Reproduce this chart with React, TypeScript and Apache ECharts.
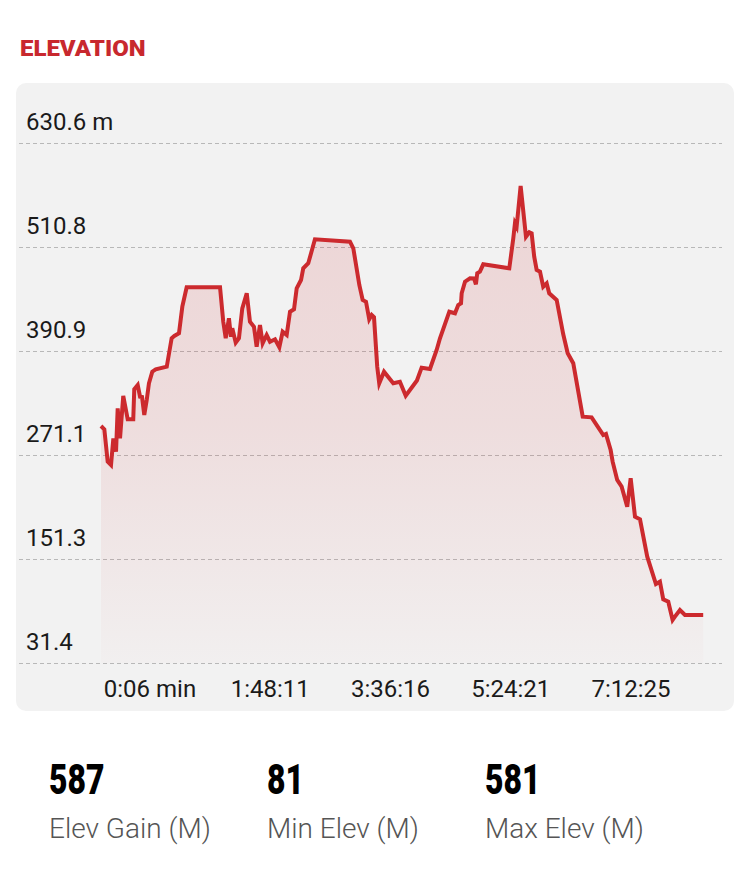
import React, { useEffect, useRef } from "react";
import * as echarts from "echarts";

// Elapsed time since the 0:06 start, in minutes
const elapsedMinutes = [
  0, 3.0, 6.0, 9.0, 11.1, 13.5, 15.0, 17.1, 20.0, 24.0,
  29.0, 29.9, 33.0, 35.1, 36.9, 38.9, 41.1, 43.1, 46.1, 49.2,
  59.1, 63.5, 65.9, 70.1, 73.1, 77.0, 107.0, 109.9, 112.1, 115.0,
  116.8, 118.0, 121.1, 124.0, 127.0, 131.0, 133.9, 137.5, 139.9, 142.9,
  145.3, 148.9, 151.9, 156.4, 160.3, 163.3, 166.9, 169.9, 173.5, 175.9,
  179.8, 181.8, 186.3, 192.3, 223.8, 226.8, 232.2, 235.2, 238.2, 241.1,
  243.3, 245.4, 248.3, 250.1, 254.4, 262.7, 268.7, 273.9, 284.0, 288.2,
  295.7, 301.7, 304.7, 313.1, 318.2, 321.1, 323.6, 324.2, 327.2, 331.7,
  335.3, 337.0, 338.2, 340.6, 343.6, 367.0, 370.6, 372.1, 373.6, 377.2,
  382.0, 385.0, 387.1, 389.4, 391.6, 394.6, 397.5, 400.6, 402.9, 409.6,
  415.5, 419.5, 424.5, 433.0, 441.0, 451.5, 453.9, 458.1, 459.9, 464.0,
  468.0, 473.0, 476.1, 480.0, 484.5, 491.0, 498.8, 502.4, 505.4, 509.9,
  513.8, 515.9, 520.4, 524.9, 541.3,
];

// Elevation in metres
const elevationM = [
  304.5, 300.7, 263.4, 259.6, 290.3, 274.9, 324.9, 290.3, 339.1, 312.2,
  312.2, 346.8, 351.7, 338.3, 337.9, 317.2, 334.5, 353.7, 367.1, 369.8,
  372.8, 405.6, 408.2, 411.3, 442.0, 464.3, 464.3, 424.7, 405.6, 428.6,
  407.4, 417.1, 400.5, 405.6, 440.1, 457.4, 424.7, 418.9, 395.9, 420.9,
  399.8, 409.4, 401.6, 404.4, 395.2, 413.2, 409.4, 436.2, 439.0, 463.2,
  472.7, 486.2, 492.0, 519.6, 516.9, 509.3, 467.0, 449.7, 447.7, 427.5,
  432.4, 429.8, 372.8, 353.7, 367.1, 353.7, 355.5, 339.4, 356.9, 371.7,
  370.2, 392.1, 405.6, 436.2, 434.4, 443.9, 445.9, 457.4, 470.8, 474.7,
  474.5, 467.8, 480.5, 482.3, 490.8, 486.2, 520.8, 538.1, 534.2, 581.0,
  522.6, 527.7, 526.5, 499.6, 484.3, 482.3, 465.0, 468.9, 457.4, 449.7,
  410.2, 388.3, 376.8, 315.2, 314.5, 294.1, 295.3, 276.8, 263.4, 242.3,
  234.6, 211.5, 244.2, 200.0, 197.0, 153.9, 122.4, 125.1, 104.8, 102.0,
  81.0, 84.8, 92.5, 86.7, 86.7,
];

const xTickLabels = ["0:06 min", "1:48:11", "3:36:16", "5:24:21", "7:12:25"];
const xTickStepMin = 108.0833; // 1:48:05 between labels
const xAxisMaxMin = 558.2;

const yTickValues = [31.4, 151.3, 271.1, 390.9, 510.8, 630.6];
const yTickLabels = ["31.4", "151.3", "271.1", "390.9", "510.8", "630.6 m"];

const statValues = ["587", "81", "581"];
const statLabels = ["Elev Gain (M)", "Min Elev (M)", "Max Elev (M)"];
const statX = [49, 267, 485];

const RED = "#cc2a2e";
const FONT = "Roboto, 'Noto Sans', sans-serif";

export default function App() {
  const ref = useRef<HTMLDivElement>(null);

  useEffect(() => {
    if (!ref.current) return;
    const chart = echarts.init(ref.current, undefined, { renderer: "svg" });

    const graphics: any[] = [
      {
        type: "rect",
        z: -10,
        shape: { x: 16, y: 83, width: 718, height: 628, r: 10 },
        style: { fill: "#f2f2f2" },
        silent: true,
      },
      {
        type: "text",
        x: 20,
        y: 48,
        scaleY: 0.94,
        style: {
          text: "ELEVATION",
          fill: "#c8282e",
          font: `900 24px ${FONT}`,
          textAlign: "left",
          textVerticalAlign: "middle",
        },
      },
    ];
    statValues.forEach((v, i) => {
      graphics.push({
        type: "text",
        x: statX[i],
        y: 779,
        scaleX: 0.76,
        style: {
          text: v,
          fill: "#000",
          font: `900 42px ${FONT}`,
          textAlign: "left",
          textVerticalAlign: "middle",
        },
      });
      graphics.push({
        type: "text",
        x: statX[i],
        y: 828,
        style: {
          text: statLabels[i],
          fill: "#555",
          font: `300 28px ${FONT}`,
          textAlign: "left",
          textVerticalAlign: "middle",
        },
      });
    });

    const option: any = {
      animation: false,
      backgroundColor: "#ffffff",
      textStyle: { fontFamily: FONT },
      grid: [
        { left: 101, right: 28, top: 143, bottom: 210 },
        { left: 19, right: 28, top: 143, bottom: 210 },
      ],
      xAxis: [
        {
          type: "value",
          gridIndex: 0,
          min: 0,
          max: xAxisMaxMin,
          interval: xTickStepMin,
          axisLine: { show: false },
          axisTick: { show: false },
          splitLine: { show: false },
          axisLabel: {
            show: true,
            showMaxLabel: false,
            margin: 14,
            color: "#1a1a1a",
            fontSize: 24,
            fontFamily: FONT,
            align: "center",
            padding: [0, 0, 0, 98],
            formatter: (v: number) => {
              const i = Math.round(v / xTickStepMin);
              if (Math.abs(v - i * xTickStepMin) > 0.5) return "";
              return xTickLabels[i] ?? "";
            },
          },
        },
        {
          type: "value",
          gridIndex: 1,
          min: 0,
          max: 1,
          show: false,
        },
      ],
      yAxis: [
        {
          type: "value",
          gridIndex: 0,
          min: yTickValues[0],
          max: yTickValues[yTickValues.length - 1],
          show: false,
          splitLine: { show: false },
        },
        {
          type: "value",
          gridIndex: 1,
          min: 0,
          max: yTickValues.length - 1,
          interval: 1,
          axisLine: { show: false },
          axisTick: { show: false },
          splitLine: {
            show: true,
            lineStyle: { color: "#b8b8b8", width: 1.2, type: [4, 3] },
          },
          axisLabel: {
            inside: true,
            margin: 7,
            color: "#1a1a1a",
            fontSize: 24,
            fontFamily: FONT,
            align: "left",
            verticalAlign: "bottom",
            padding: [0, 0, 9, 0],
            formatter: (v: number) => yTickLabels[Math.round(v)] ?? "",
          },
        },
      ],
      series: [
        {
          type: "line",
          xAxisIndex: 0,
          yAxisIndex: 0,
          data: elapsedMinutes.map((t, i) => [t, elevationM[i]]),
          symbol: "none",
          z: 5,
          lineStyle: { color: RED, width: 4, join: "miter" },
          areaStyle: {
            color: new echarts.graphic.LinearGradient(0, 0, 0, 1, [
              { offset: 0, color: "rgba(204,42,46,0.21)" },
              { offset: 0.5, color: "rgba(204,42,46,0.15)" },
              { offset: 1, color: "rgba(204,42,46,0.02)" },
            ]),
          },
        },
      ],
      graphic: graphics,
    };

    chart.setOption(option);
    return () => chart.dispose();
  }, []);

  return (
    <div
      ref={ref}
      style={{ position: "absolute", left: 0, top: 0, width: 750, height: 873 }}
    />
  );
}
